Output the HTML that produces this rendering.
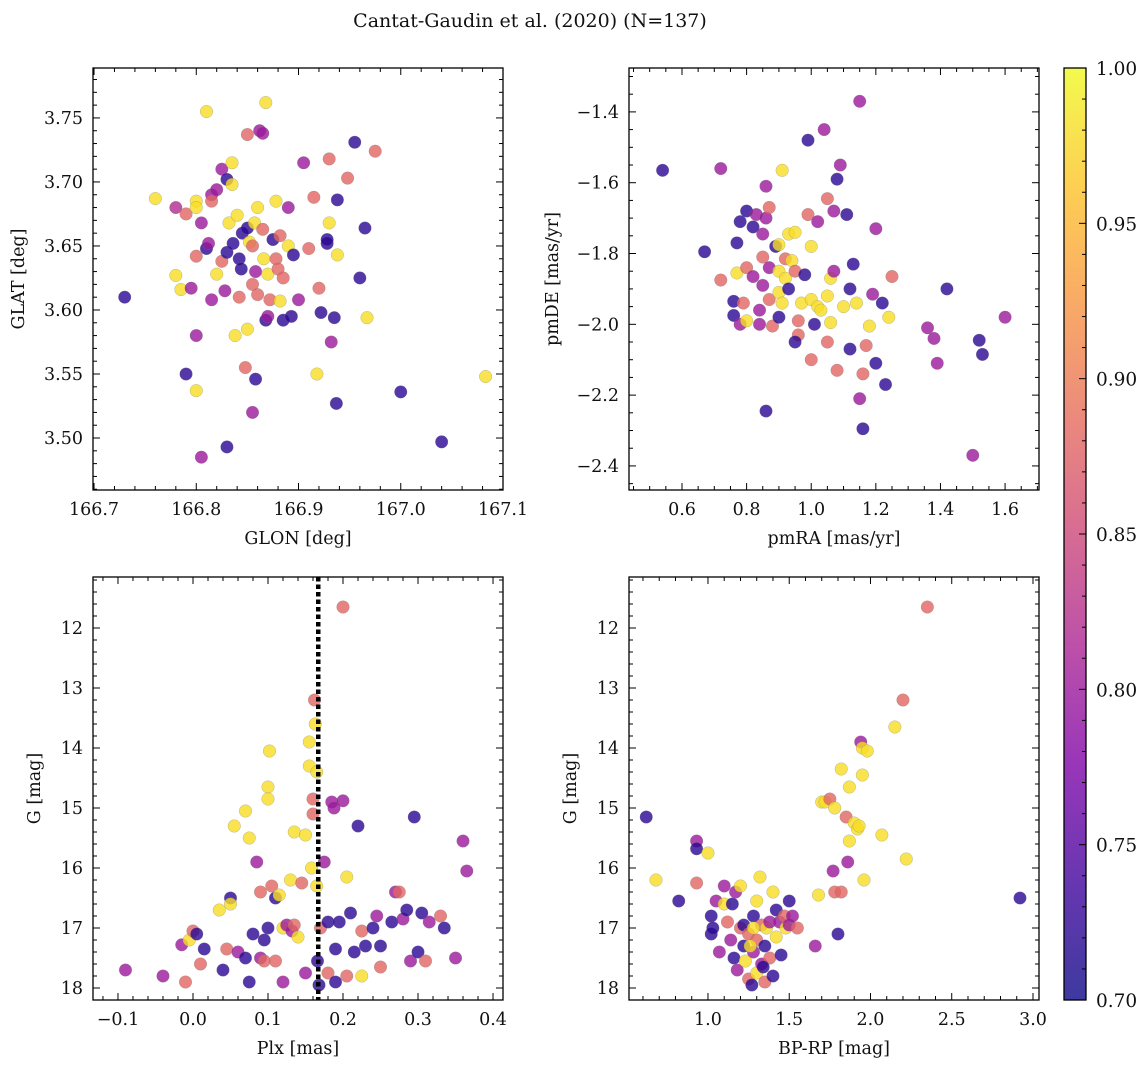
<!DOCTYPE html>
<html><head><meta charset="utf-8"><style>
body{margin:0;background:#fff}
svg text{font-family:"DejaVu Serif","Liberation Serif",serif;fill:#111}
</style></head><body>
<svg id="fig" width="1148" height="1067" xmlns="http://www.w3.org/2000/svg">
<text x="530" y="27" font-size="19" text-anchor="middle">Cantat-Gaudin et al. (2020) (N=137)</text>
</svg>
<script>
// Top-left panel: GLON, GLAT, membership probability
const tlGlon=[166.73,166.76,166.78,166.78,166.785,166.79,166.79,166.795,166.8,166.8,166.8,166.8,166.8,166.805,166.805,166.81,166.81,166.812,166.815,166.815,166.815,166.82,166.82,166.825,166.825,166.828,166.83,166.83,166.832,166.835,166.835,166.836,166.838,166.84,166.842,166.842,166.844,166.845,166.848,166.85,166.85,166.852,166.855,166.855,166.855,166.857,166.858,166.858,166.86,166.86,166.862,166.865,166.865,166.866,166.868,166.868,166.87,166.872,166.875,166.878,166.878,166.88,166.882,166.882,166.885,166.885,166.89,166.89,166.893,166.895,166.9,166.905,166.91,166.915,166.918,166.92,166.922,166.928,166.928,166.93,166.93,166.932,166.935,166.937,166.938,166.938,166.948,166.955,166.96,166.965,166.967,166.975,167.0,167.04,167.083,166.83,166.85,166.87];
const tlGlat=[3.61,3.687,3.627,3.68,3.616,3.675,3.55,3.617,3.685,3.68,3.58,3.642,3.537,3.485,3.668,3.755,3.648,3.652,3.69,3.685,3.608,3.628,3.694,3.71,3.638,3.615,3.702,3.645,3.668,3.698,3.715,3.652,3.58,3.674,3.61,3.64,3.632,3.66,3.555,3.737,3.664,3.653,3.52,3.62,3.65,3.668,3.546,3.63,3.68,3.612,3.74,3.738,3.663,3.64,3.762,3.592,3.628,3.608,3.655,3.685,3.64,3.632,3.607,3.658,3.592,3.625,3.68,3.65,3.595,3.643,3.608,3.715,3.648,3.688,3.55,3.617,3.598,3.652,3.655,3.718,3.668,3.575,3.594,3.527,3.643,3.686,3.703,3.731,3.625,3.664,3.594,3.724,3.536,3.497,3.548,3.493,3.585,3.595];
const tlProb=[.72,.98,.98,.82,.98,.88,.72,.8,.98,.98,.8,.88,.98,.8,.8,.98,.72,.8,.8,.88,.8,.98,.8,.8,.88,.8,.72,.72,.98,.98,.98,.72,.98,.98,.88,.72,.72,.72,.88,.88,.72,.98,.8,.88,.88,.98,.72,.8,.98,.88,.8,.8,.88,.98,.98,.72,.98,.88,.72,.98,.88,.88,.98,.88,.72,.88,.8,.98,.72,.72,.8,.8,.88,.88,.98,.88,.72,.72,.72,.88,.98,.8,.72,.72,.98,.72,.88,.72,.72,.72,.98,.88,.72,.72,.98,.72,.98,.8];
// Top-right panel: pmRA, pmDE
const trPmra=[0.54,0.67,0.72,0.72,0.76,0.76,0.77,0.77,0.78,0.78,0.79,0.8,0.8,0.8,0.82,0.82,0.83,0.84,0.84,0.85,0.85,0.86,0.86,0.86,0.87,0.87,0.87,0.88,0.89,0.9,0.9,0.9,0.91,0.91,0.92,0.92,0.93,0.93,0.94,0.95,0.95,0.96,0.96,0.97,0.98,0.99,0.99,1.0,1.0,1.0,1.01,1.02,1.02,1.03,1.04,1.05,1.05,1.06,1.06,1.07,1.07,1.08,1.08,1.09,1.1,1.11,1.12,1.12,1.13,1.14,1.15,1.15,1.16,1.16,1.17,1.18,1.19,1.2,1.2,1.22,1.23,1.24,1.25,1.36,1.38,1.39,1.42,1.5,1.52,1.53,1.6,0.9,0.95,1.05,0.85];
const trPmde=[-1.565,-1.795,-1.56,-1.875,-1.975,-1.935,-1.77,-1.855,-2.0,-1.71,-1.94,-1.68,-1.84,-1.99,-1.865,-1.725,-1.69,-1.96,-2.0,-1.81,-1.745,-1.7,-1.61,-2.245,-1.67,-1.93,-1.84,-2.005,-1.78,-1.85,-1.775,-1.91,-1.565,-1.94,-1.815,-1.87,-1.745,-1.9,-1.82,-1.74,-1.85,-1.99,-2.03,-1.94,-1.86,-1.48,-1.69,-1.78,-1.93,-2.1,-2.0,-1.95,-1.71,-1.96,-1.45,-1.645,-2.05,-1.87,-1.995,-1.68,-1.85,-1.59,-2.13,-1.55,-1.95,-1.69,-2.07,-1.9,-1.83,-1.94,-1.37,-2.21,-2.295,-2.14,-2.06,-2.005,-1.915,-2.11,-1.73,-1.94,-2.17,-1.98,-1.865,-2.01,-2.04,-2.11,-1.9,-2.37,-2.045,-2.085,-1.98,-1.98,-2.05,-1.92,-1.89];
const trProb=[.72,.72,.8,.88,.72,.72,.72,.98,.8,.72,.88,.72,.88,.98,.8,.72,.8,.8,.8,.88,.8,.8,.8,.72,.88,.88,.8,.88,.72,.98,.98,.98,.98,.98,.88,.98,.98,.72,.98,.98,.88,.88,.88,.98,.72,.72,.88,.98,.98,.88,.72,.98,.8,.98,.8,.88,.88,.98,.98,.8,.8,.72,.88,.8,.98,.72,.72,.72,.72,.98,.8,.8,.72,.88,.88,.98,.8,.72,.8,.72,.72,.98,.88,.8,.8,.8,.72,.8,.72,.72,.8,.72,.72,.98,.8];
// Bottom-left panel: Plx, G
const blPlx=[-0.09,-0.04,-0.015,-0.01,-0.005,0.0,0.005,0.01,0.015,0.035,0.04,0.045,0.05,0.05,0.055,0.06,0.07,0.07,0.075,0.075,0.08,0.085,0.09,0.09,0.095,0.095,0.1,0.1,0.1,0.102,0.105,0.11,0.11,0.115,0.12,0.12,0.125,0.13,0.132,0.135,0.14,0.145,0.15,0.15,0.155,0.155,0.158,0.16,0.16,0.162,0.163,0.165,0.165,0.166,0.168,0.17,0.175,0.18,0.18,0.185,0.188,0.19,0.195,0.2,0.2,0.205,0.205,0.21,0.215,0.22,0.225,0.225,0.23,0.24,0.245,0.25,0.25,0.265,0.27,0.275,0.28,0.285,0.29,0.295,0.3,0.305,0.31,0.315,0.33,0.335,0.35,0.36,0.365,0.19,0.135];
const blG=[17.7,17.8,17.28,17.9,17.2,17.05,17.1,17.6,17.35,16.7,17.7,17.35,16.5,16.6,15.3,17.4,15.05,17.5,15.5,17.9,17.1,15.9,17.5,16.4,17.2,17.55,14.65,14.85,17.0,14.05,16.3,17.55,16.5,16.45,17.9,17.0,16.95,16.2,17.05,15.4,17.15,16.25,17.75,15.45,13.9,14.3,16.0,14.85,15.1,13.2,13.6,14.4,16.3,17.55,17.95,17.0,15.9,16.9,17.75,14.9,15.0,17.35,16.9,11.65,14.88,16.15,17.8,16.75,17.4,15.3,17.05,17.8,17.3,17.0,16.8,17.3,17.65,16.9,16.4,16.4,16.85,16.7,17.55,15.15,17.4,16.75,17.55,16.9,16.8,17.0,17.5,15.55,16.05,17.9,16.95];
const blProb=[.8,.8,.8,.88,.98,.88,.72,.88,.72,.98,.72,.88,.72,.98,.98,.8,.98,.72,.98,.72,.72,.8,.8,.88,.72,.88,.98,.98,.72,.98,.88,.88,.72,.98,.8,.98,.8,.98,.8,.98,.98,.88,.8,.98,.98,.98,.98,.88,.88,.88,.98,.98,.98,.72,.72,.88,.8,.72,.88,.8,.8,.72,.72,.88,.8,.98,.88,.72,.72,.72,.88,.98,.72,.72,.8,.72,.88,.72,.8,.88,.8,.72,.8,.72,.72,.72,.88,.8,.88,.72,.8,.8,.8,.72,.88];
const blParallaxLine=[0.167];
// Bottom-right panel: BP-RP, G
const brColor=[0.62,0.68,0.82,0.93,0.93,0.93,1.0,1.02,1.02,1.03,1.05,1.07,1.1,1.1,1.12,1.14,1.15,1.16,1.17,1.18,1.2,1.2,1.22,1.22,1.23,1.25,1.25,1.27,1.28,1.28,1.3,1.3,1.3,1.32,1.33,1.33,1.35,1.35,1.36,1.38,1.38,1.4,1.4,1.42,1.42,1.44,1.45,1.47,1.48,1.5,1.5,1.52,1.55,1.66,1.68,1.7,1.72,1.75,1.77,1.78,1.78,1.8,1.82,1.82,1.85,1.86,1.87,1.87,1.9,1.92,1.93,1.94,1.95,1.95,1.96,1.98,2.07,2.15,2.2,2.22,2.35,2.92,1.26,1.34,1.28];
const brG=[15.15,16.2,16.55,15.55,15.68,16.25,15.75,16.8,17.1,17.0,16.55,17.4,16.3,16.6,16.9,17.2,16.6,17.5,16.4,17.7,16.3,17.0,17.3,16.95,17.55,17.85,17.1,17.95,16.8,17.4,17.75,16.55,17.2,16.15,17.6,16.95,17.9,17.3,17.0,17.5,16.9,16.4,17.8,16.7,17.15,16.9,17.45,16.8,17.0,16.55,16.95,16.8,17.0,17.3,16.45,14.9,14.9,14.85,16.05,16.4,15.0,17.1,14.35,16.4,15.15,15.9,15.55,14.65,15.25,15.35,15.3,13.9,14.0,14.45,16.2,14.05,15.45,13.65,13.2,15.85,11.65,16.5,17.3,17.65,17.0];
const brProb=[.72,.98,.72,.8,.72,.88,.98,.72,.72,.72,.8,.8,.8,.98,.88,.8,.72,.72,.8,.8,.98,.88,.72,.72,.98,.88,.88,.72,.72,.8,.98,.98,.88,.98,.8,.88,.88,.72,.98,.88,.8,.98,.72,.72,.98,.8,.72,.88,.98,.72,.8,.8,.88,.8,.98,.98,.98,.88,.8,.88,.98,.72,.98,.88,.88,.8,.98,.98,.98,.98,.98,.8,.98,.98,.98,.98,.98,.98,.88,.98,.88,.72,.98,.72,.98];
const cbTicks=[0.70,0.75,0.80,0.85,0.90,0.95,1.00];

const NS='http://www.w3.org/2000/svg';
const svg=document.getElementById('fig');
function mk(tag,attrs,parent){const e=document.createElementNS(NS,tag);for(const k in attrs)e.setAttribute(k,attrs[k]);(parent||svg).appendChild(e);return e;}
const plasma=[[0,13,8,135],[0.125,65,4,157],[0.25,126,3,168],[0.375,170,35,149],[0.5,204,71,120],[0.625,230,108,92],[0.75,248,149,64],[0.875,253,196,39],[1,240,249,33]];
function cmap(p){let t=Math.max(0,Math.min(1,(p-0.7)/0.3));for(let i=1;i<plasma.length;i++){if(t<=plasma[i][0]){const a=plasma[i-1],b=plasma[i],f=(t-a[0])/(b[0]-a[0]);return 'rgb('+[1,2,3].map(j=>Math.round(a[j]+(b[j]-a[j])*f)).join(',')+')';}}return 'rgb(240,249,33)';}
function fmt(v,d){const s=v.toFixed(d);return s.replace('-','\u2212');}
const FS=17.5;

function panel(o){
  const g=mk('g',{});
  
  
  const sx=v=>o.x0+(v-o.xr[0])/(o.xr[1]-o.xr[0])*(o.x1-o.x0);
  const sy=o.yinv?(v=>o.y0+(v-o.yr[0])/(o.yr[1]-o.yr[0])*(o.y1-o.y0)):(v=>o.y1-(v-o.yr[0])/(o.yr[1]-o.yr[0])*(o.y1-o.y0));
  const pg=mk('g',{},g);
  
  
  o.xs.forEach((xv,i)=>{
    const c=mk('circle',{cx:sx(xv),cy:sy(o.ys[i]),r:6.3,fill:cmap(o.ps[i]),'fill-opacity':0.8,stroke:'#777','stroke-width':0.4,'stroke-opacity':0.6},pg);
    
    
  });
  if(o.vline){o.vline.forEach(v=>{const l=mk('line',{x1:sx(v),x2:sx(v),y1:o.y0,y2:o.y1,stroke:'#000','stroke-width':4.5,'stroke-dasharray':'4.5 3'},g);
    
    });}
  const tk=mk('g',{stroke:'#000','stroke-width':1},g);
  function ticks(step,nm,range,axis,dec){
    const ms=step/nm;
    const s=Math.ceil(range[0]/ms-1e-6), e=Math.floor(range[1]/ms+1e-6);
    for(let k=s;k<=e;k++){
      const v=k*ms; const major=Math.abs(k%nm)===0; const L=major?7:4;
      if(axis==='x'){const X=sx(v);mk('line',{x1:X,x2:X,y1:o.y1,y2:o.y1-L},tk);mk('line',{x1:X,x2:X,y1:o.y0,y2:o.y0+L},tk);
        if(major){const t=mk('text',{x:X,y:o.y1+25,'font-size':FS,'text-anchor':'middle',stroke:'none'},g);t.textContent=fmt(v,dec);
          }}
      else{const Y=sy(v);mk('line',{x1:o.x0,x2:o.x0+L,y1:Y,y2:Y},tk);mk('line',{x1:o.x1,x2:o.x1-L,y1:Y,y2:Y},tk);
        if(major){const t=mk('text',{x:o.x0-10,y:Y+6,'font-size':FS,'text-anchor':'end',stroke:'none'},g);t.textContent=fmt(v,dec);
          }}
    }
  }
  ticks(o.xstep,o.xn,o.xr,'x',o.xd);
  ticks(o.ystep,o.yn,[Math.min(...o.yr),Math.max(...o.yr)],'y',o.yd);
  const fr=mk('rect',{x:o.x0,y:o.y0,width:o.x1-o.x0,height:o.y1-o.y0,fill:'none',stroke:'#000','stroke-width':1.3},g);
  
  const xl=mk('text',{x:(o.x0+o.x1)/2,y:o.y1+54,'font-size':FS,'text-anchor':'middle'},g);xl.textContent=o.xlab;
  
  const yx=o.x0-o.yoff, yy=(o.y0+o.y1)/2;
  const yl=mk('text',{x:yx,y:yy,'font-size':FS,'text-anchor':'middle',transform:`rotate(-90 ${yx} ${yy})`},g);yl.textContent=o.ylab;
  
}
panel({name:'glon-glat-panel',x0:93,x1:503,y0:68,y1:490,xr:[166.699,167.1],yr:[3.4594,3.789],xstep:0.1,xn:5,ystep:0.05,yn:5,xd:1,yd:2,xs:tlGlon,ys:tlGlat,ps:tlProb,xlab:'GLON [deg]',ylab:'GLAT [deg]',yoff:69});
panel({name:'proper-motion-panel',x0:629,x1:1039,y0:68,y1:490,xr:[0.436,1.705],yr:[-2.468,-1.276],xstep:0.2,xn:4,ystep:0.2,yn:4,xd:1,yd:1,xs:trPmra,ys:trPmde,ps:trProb,xlab:'pmRA [mas/yr]',ylab:'pmDE [mas/yr]',yoff:71});
panel({name:'parallax-magnitude-panel',x0:93,x1:503,y0:577,y1:1000,xr:[-0.1333,0.4133],yr:[11.15,18.2],yinv:true,xstep:0.1,xn:5,ystep:1,yn:5,xd:1,yd:0,xs:blPlx,ys:blG,ps:blProb,vline:blParallaxLine,xlab:'Plx [mas]',ylab:'G [mag]',yoff:53});
panel({name:'color-magnitude-panel',x0:629,x1:1039,y0:577,y1:1000,xr:[0.514,3.037],yr:[11.15,18.2],yinv:true,xstep:0.5,xn:5,ystep:1,yn:5,xd:1,yd:0,xs:brColor,ys:brG,ps:brProb,xlab:'BP-RP [mag]',ylab:'G [mag]',yoff:53});

(function(){
  const x0=1064,x1=1086,y0=68,y1=1000;
  const g=mk('g',{});
  
  
  const defs=mk('defs',{},g);
  const lg=mk('linearGradient',{id:'cbg',x1:0,y1:1,x2:0,y2:0},defs);
  plasma.forEach(s=>mk('stop',{offset:s[0],'stop-color':`rgb(${s[1]},${s[2]},${s[3]})`},lg));
  mk('rect',{x:x0,y:y0,width:x1-x0,height:y1-y0,fill:'url(#cbg)','fill-opacity':0.8},g);
  const sy=v=>y1-(v-0.7)/0.3*(y1-y0);
  for(let k=70;k<=100;k++){const Y=sy(k/100);const major=k%5===0;mk('line',{x1:x1,x2:x1-(major?7:4),y1:Y,y2:Y,stroke:'#000','stroke-width':1},g);}
  cbTicks.forEach(v=>{const t=mk('text',{x:x1+10,y:sy(v)+7,'font-size':18.5},g);t.textContent=v.toFixed(2);
    });
  mk('rect',{x:x0,y:y0,width:x1-x0,height:y1-y0,fill:'none',stroke:'#000','stroke-width':1.3},g);
})();
</script>
</body></html>
